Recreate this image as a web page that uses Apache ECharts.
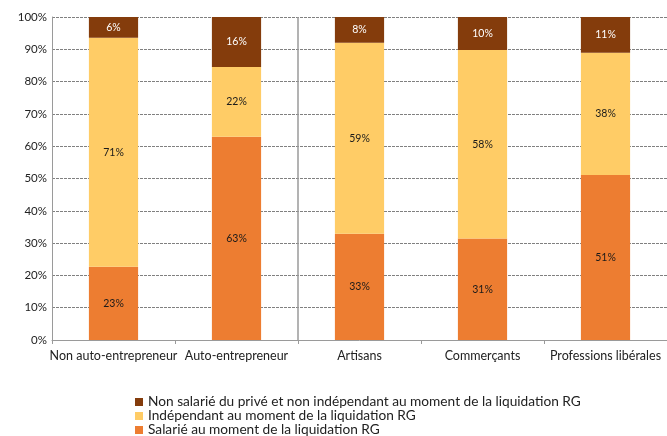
<!DOCTYPE html>
<html><head><meta charset="utf-8">
<script src="https://cdn.jsdelivr.net/npm/echarts@6/dist/echarts.min.js"></script>
<style>html,body{margin:0;padding:0;background:#fff}#c{width:667px;height:436px}</style>
</head><body><div id="c"></div>
<script>
const categories = ['Non auto-entrepreneur', 'Auto-entrepreneur', 'Artisans', 'Commerçants', 'Professions libérales'];
const salarie = [22.7, 62.9, 32.9, 31.4, 51.1];
const independant = [70.9, 21.6, 59.1, 58.4, 37.8];
const nonSalarie = [6.4, 15.5, 8.0, 10.2, 11.1];
const yTicks = [0, 10, 20, 30, 40, 50, 60, 70, 80, 90, 100];
const separatorX = [2, 2];
const separatorY = [0, 100];
const names = ['Non salarié du privé et non indépendant au moment de la liquidation RG',
  'Indépendant au moment de la liquidation RG',
  'Salarié au moment de la liquidation RG'];

const font = 'Lato, "Open Sans", sans-serif';
const chart = echarts.init(document.getElementById('c'), null, {renderer: 'canvas'});
const lbl = (color) => ({show: true, position: 'inside', color: color, fontSize: 10.5, fontFamily: font,
  formatter: p => Math.round(p.value) + '%'});
chart.setOption({
  animation: false,
  textStyle: {fontFamily: font},
  grid: {left: 52, top: 17, bottom: 96, right: -9, containLabel: false},
  legend: {
    orient: 'vertical', left: 135, top: 395, height: 80, itemWidth: 8, itemHeight: 8, itemGap: 0,
    icon: 'rect', padding: 0,
    data: names,
    textStyle: {fontSize: 13.7, color: '#222', fontFamily: font, padding: [0, 0, 0, 0]}
  },
  xAxis: [{
    type: 'category', data: categories,
    axisLine: {lineStyle: {color: '#9a9a9a', width: 1}},
    axisTick: {show: true, length: 4, lineStyle: {color: '#9a9a9a'}},
    axisLabel: {color: '#222', fontSize: 12.5, margin: 9, fontFamily: font, interval: 0}
  }, {
    type: 'value', min: 0, max: 5, show: false
  }],
  yAxis: [{
    type: 'value', min: 0, max: 100, interval: 10,
    axisLine: {show: true, lineStyle: {color: '#9a9a9a'}},
    axisTick: {show: false},
    axisLabel: {color: '#222', fontSize: 11.5, margin: 5, fontFamily: font,
      formatter: v => yTicks.includes(v) ? v + '%' : ''},
    splitLine: {lineStyle: {color: '#808080', type: [3, 1], width: 1}}
  }],
  series: [
    {name: names[2], type: 'bar', stack: 's', data: salarie, barWidth: '40%', itemStyle: {color: '#ED7D31'}, label: lbl('#1a1a1a')},
    {name: names[1], type: 'bar', stack: 's', data: independant, itemStyle: {color: '#FFCC66'}, label: lbl('#1a1a1a')},
    {name: names[0], type: 'bar', stack: 's', data: nonSalarie, itemStyle: {color: '#843C0C'}, label: lbl('#ffffff')},
    {type: 'line', xAxisIndex: 1, data: separatorX.map((x, i) => [x, separatorY[i]]), symbol: 'none',
      lineStyle: {color: '#9a9a9a', width: 1.5}, silent: true, z: 1}
  ]
});
</script></body></html>
